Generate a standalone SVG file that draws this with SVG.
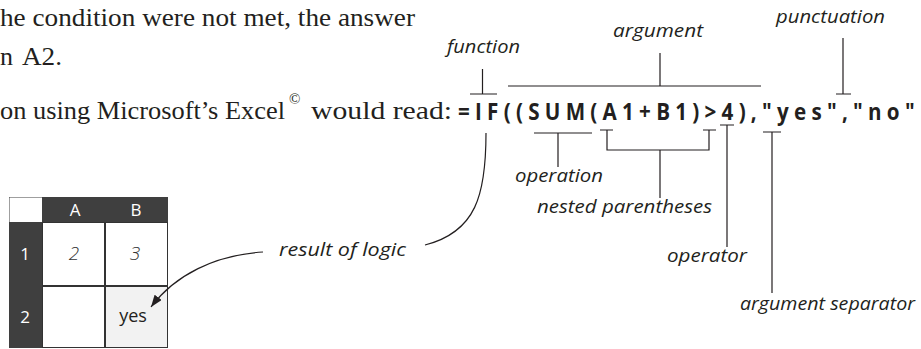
<svg xmlns="http://www.w3.org/2000/svg" width="921" height="349" viewBox="0 0 921 349">
<defs>
<style>
.body{font-family:"Liberation Serif",serif;font-size:26px;fill:#231f20}
.formula{font-family:"Open Sans",sans-serif;font-size:24px;font-weight:700;fill:#231f20}
.lbl{font-family:"Open Sans",sans-serif;font-style:italic;font-size:19px;fill:#231f20}
.ln{fill:none;stroke:#231f20;stroke-width:1.2}
.hdr{font-family:"Open Sans",sans-serif;font-size:17px;fill:#fff;text-anchor:middle}
.cell{font-family:"Open Sans",sans-serif;font-size:18px;fill:#231f20;text-anchor:middle}
.cellv{font-family:"Open Sans",sans-serif;font-style:italic;font-weight:300;font-size:19px;fill:#333;text-anchor:middle}
.cellbox{stroke:#333;stroke-width:1}
</style>
<marker id="ah" markerWidth="12" markerHeight="9" refX="12" refY="4.5" orient="auto" markerUnits="userSpaceOnUse"><path d="M0,0 L12,4.5 L0,9 Z" fill="#231f20"/></marker>
</defs>

<g id="body-text">
<text class="body" x="0" y="26" textLength="415" lengthAdjust="spacingAndGlyphs">he condition were not met, the answer</text>
<text class="body" x="0" y="65">n</text>
<text class="body" x="22" y="65" textLength="40" lengthAdjust="spacingAndGlyphs">A2.</text>
<text class="body" x="0" y="119" textLength="285" lengthAdjust="spacingAndGlyphs">on using Microsoft’s Excel</text>
<text class="body" x="289" y="104" style="font-size:15px">©</text>
<text class="body" x="311" y="119" textLength="141" lengthAdjust="spacingAndGlyphs">would read:</text>
</g>

<g id="formula">
<text class="formula" transform="translate(458,120) scale(0.86,1)" x="0" y="0" textLength="531" lengthAdjust="spacing">=IF((SUM(A1+B1)&gt;4),"yes","no"</text>
</g>

<g id="label-function"><text class="lbl" x="447" y="53" textLength="73" lengthAdjust="spacingAndGlyphs">function</text></g>
<g id="label-argument"><text class="lbl" x="613" y="37" textLength="90" lengthAdjust="spacingAndGlyphs">argument</text></g>
<g id="label-punctuation"><text class="lbl" x="776" y="23" textLength="109" lengthAdjust="spacingAndGlyphs">punctuation</text></g>
<g id="label-operation"><text class="lbl" x="515" y="182" textLength="88" lengthAdjust="spacingAndGlyphs">operation</text></g>
<g id="label-nested"><text class="lbl" x="537" y="213" textLength="175" lengthAdjust="spacingAndGlyphs">nested parentheses</text></g>
<g id="label-operator"><text class="lbl" x="667" y="262" textLength="80" lengthAdjust="spacingAndGlyphs">operator</text></g>
<g id="label-separator"><text class="lbl" x="740" y="310" textLength="175" lengthAdjust="spacingAndGlyphs">argument separator</text></g>
<g id="label-result"><text class="lbl" x="279" y="256" textLength="127" lengthAdjust="spacingAndGlyphs">result of logic</text></g>

<g id="table">
<rect x="9" y="197" width="159" height="151" fill="#3f3f3f"/>
<rect x="9.5" y="197.5" width="32.5" height="24.5" fill="#fff"/>
<rect class="cellbox" x="42.5" y="222.5" width="62" height="63" fill="#fff"/>
<rect class="cellbox" x="105.5" y="222.5" width="62" height="63" fill="#fff"/>
<rect class="cellbox" x="42.5" y="286.5" width="62" height="61" fill="#fff"/>
<rect class="cellbox" x="105.5" y="286.5" width="62" height="61" fill="#f2f2f2"/>
<text class="hdr" x="75" y="216">A</text>
<text class="hdr" x="136" y="216">B</text>
<text class="hdr" x="25" y="260">1</text>
<text class="hdr" x="25" y="323">2</text>
<text class="cellv" x="74" y="260">2</text>
<text class="cellv" x="135" y="260">3</text>
<text class="cell" x="133" y="322">yes</text>
</g>

<g id="connectors">
<path class="ln" d="M482.5,69 V94 M470,94 H497"/>
<path class="ln" d="M508,86 H761 M660,53 V86"/>
<path class="ln" d="M843,38 V94 M836,94 H851"/>
<path class="ln" d="M534,133 H592 M558,133 V167"/>
<path class="ln" d="M600,130 H613 M703,130 H716 M607,130 V150 H709 V130 M660,150 V198"/>
<path class="ln" d="M720,125 H734 M727,125 V247"/>
<path class="ln" d="M763,132 H781 M772,132 V293"/>
<path class="ln" d="M486,133 C486,195 476,232 425,245"/>
<path class="ln" d="M263,252 C215,255 175,275 151,307" marker-end="url(#ah)"/>
</g>
</svg>
